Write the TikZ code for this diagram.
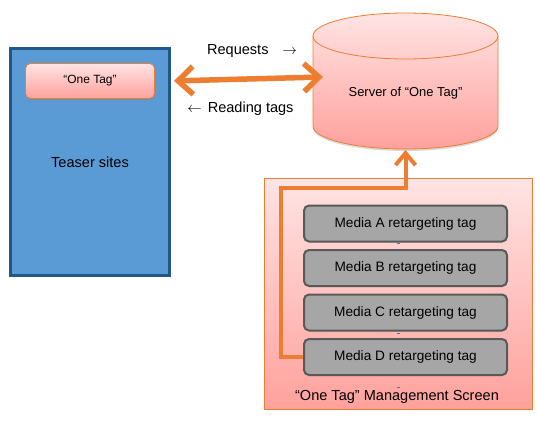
\documentclass[tikz,border=0pt]{standalone}
\usepackage{fontspec}
\setmainfont{Liberation Sans}
\usetikzlibrary{positioning,arrows.meta,shadows}

\definecolor{tagorange}{HTML}{ED7D31}
\definecolor{siteblue}{HTML}{5B9BD5}
\definecolor{siteedge}{HTML}{22578A}
\definecolor{pinktop}{HTML}{FFE4E4}
\definecolor{pinkbot}{HTML}{FFA19C}
\definecolor{mediagray}{HTML}{A6A6A6}
\definecolor{mediaedge}{HTML}{595959}
\definecolor{tickteal}{HTML}{31859C}

\begin{document}
\begin{tikzpicture}[x=1bp,y=1bp,
        site/.style={draw=siteedge, line width=3bp, fill=siteblue,
            minimum width=159bp, minimum height=227bp},
        tagbox/.style={draw=tagorange, line width=.8bp, rounded corners=5bp,
            top color=pinktop, bottom color=pinkbot,
            minimum width=129bp, minimum height=35bp,
            drop shadow={opacity=.35, shadow xshift=.5bp, shadow yshift=-1.5bp},
            font=\fontsize{12}{14}\selectfont},
        screen/.style={draw=tagorange, line width=1bp, top color=pinktop,
            bottom color=pinkbot, minimum width=268bp, minimum height=231bp},
        mediabox/.style={draw=mediaedge, line width=2bp, fill=mediagray,
            rounded corners=5bp, minimum width=203bp, minimum height=36bp,
            drop shadow={opacity=.25, shadow xshift=.5bp, shadow yshift=-1bp},
            font=\fontsize{13.7}{16}\selectfont},
        bigtext/.style={font=\fontsize{14.6}{17}\selectfont},
        fatarrow/.style={draw=tagorange, line width=5.5bp,
            {Straight Barb[length=15bp,width=28bp]}-{Straight Barb[length=15bp,width=28bp]}},
        uparrow/.style={draw=tagorange, line width=4bp,
            -{Straight Barb[length=12bp,width=20bp]}},
        tick/.style={draw=tickteal, line width=1bp}
    ]
    \useasboundingbox (0,0) rectangle (537,420);

    \begin{scope}
        % teaser site with its tag
        \node[site] (teaser) at (90,258) {};
        \node[bigtext] (teasertext) at (90,258) {Teaser sites};
        \node[tagbox] (onetag) at (90,339) {“One Tag”};

        % server cylinder
        %\draw[gray, opacity=.4, line width=2bp] (314,292) arc[start angle=180, end angle=360, x radius=91.5bp, y radius=23bp];
        \path[top color=pinktop, bottom color=pinkbot, draw=tagorange, line width=.8bp,
            drop shadow={opacity=.3, shadow xshift=0bp, shadow yshift=-2bp}]
            (313,384) -- (313,294)
            arc[start angle=180, end angle=360, x radius=92.5bp, y radius=23bp]
            -- (498,384)
            arc[start angle=0, end angle=180, x radius=92.5bp, y radius=23bp]
            -- cycle;
        \draw[tagorange, line width=.8bp] (313,384)
            arc[start angle=180, end angle=360, x radius=92.5bp, y radius=23bp];
        \node[font=\fontsize{13}{15}\selectfont] (server) at (405.5,327) {Server of “One Tag”};
        \coordinate (srvW) at (323,343);
        \coordinate (srvS) at (405.5,270);

        % management screen
        \node[screen] (screen) at (398.5,126) {};
        \node[bigtext] (screenlabel) at (397,23) {“One Tag” Management Screen};

        \node[mediabox] (mediaA) at (405.5,196.5) {Media A retargeting tag};
        \node[mediabox, below=6.5bp of mediaA] (mediaB) {Media B retargeting tag};
        \node[mediabox, below=6.5bp of mediaB] (mediaC) {Media C retargeting tag};
        \node[mediabox, below=6.5bp of mediaC] (mediaD) {Media D retargeting tag};

        \draw[tick] (396.5,176.5) -- (399.5,176.5);
        \draw[tick] (396.5,86.5) -- (399.5,86.5);
        \draw[tick] (396.5,33) -- (399.5,33);

        % requests and tag reading
        \node[bigtext] (requests) at (252,369) {Requests\hspace{14bp}$\rightarrow$};
        \node[bigtext] (reading) at (240.5,311) {$\leftarrow$\hspace{6bp}Reading tags};
        \draw[fatarrow, shorten <=3bp] (teaser.east |- onetag) -- (srvW);

        \coordinate (bend) at (281,232);
        \draw[uparrow] (mediaD.west) -| (bend) -- (bend -| srvS) -- (srvS);
    \end{scope}
\end{tikzpicture}
\end{document}
